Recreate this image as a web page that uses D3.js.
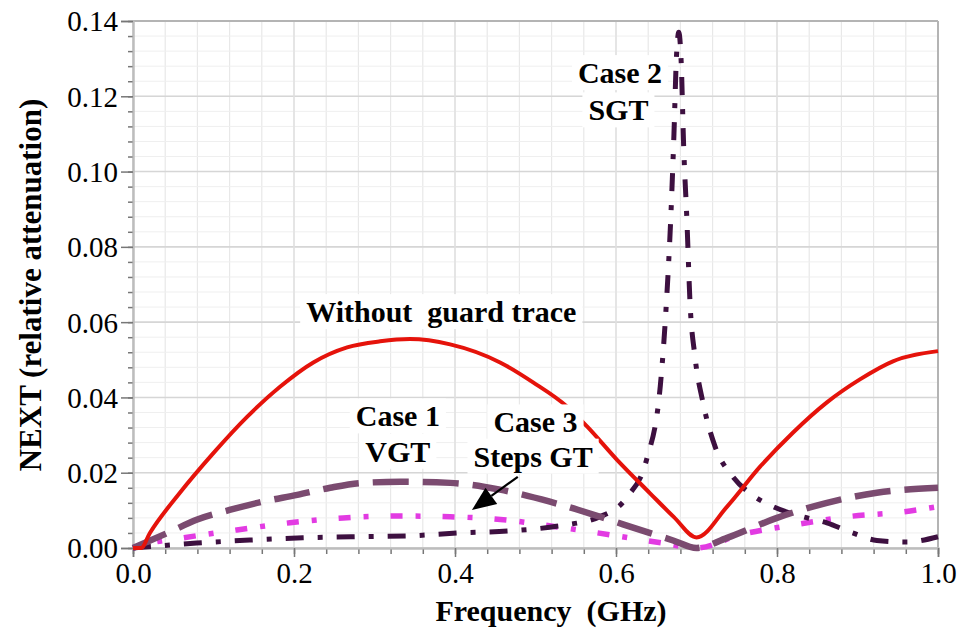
<!DOCTYPE html>
<html>
<head>
<meta charset="utf-8">
<script src="https://cdn.jsdelivr.net/npm/d3@7"></script>
<style>
  html, body { margin: 0; padding: 0; background: #fff; }
  svg { display: block; }
</style>
</head>
<body>
<svg id="chart" width="967" height="634" font-family="Liberation Serif"></svg>
<script>
// ---------------- data ----------------
const xTicks = [0.0, 0.2, 0.4, 0.6, 0.8, 1.0];
const yTicks = [0.00, 0.02, 0.04, 0.06, 0.08, 0.10, 0.12, 0.14];

// Without guard trace (red, solid)
const freqNone = [0.0, 0.01, 0.021, 0.058, 0.099, 0.142, 0.183, 0.224, 0.266, 0.307, 0.344, 0.394, 0.456, 0.497, 0.539, 0.564, 0.601, 0.642, 0.672, 0.700, 0.738, 0.779, 0.82, 0.862, 0.903, 0.944, 1.0];
const nextNone = [0.0, 0.0, 0.004, 0.0146, 0.025, 0.0349, 0.0429, 0.0493, 0.0533, 0.0549, 0.0555, 0.0541, 0.0493, 0.044, 0.0376, 0.0323, 0.0235, 0.0146, 0.0082, 0.0028, 0.011, 0.0216, 0.0307, 0.0387, 0.0448, 0.0496, 0.0523];

// Case 1 VGT (mauve, long dashes)
const freqVGT = [0.0, 0.046, 0.079, 0.12, 0.161, 0.204, 0.245, 0.286, 0.332, 0.394, 0.456, 0.518, 0.58, 0.63, 0.671, 0.70, 0.738, 0.8, 0.862, 0.924, 1.0];
const nextVGT = [0.0, 0.0043, 0.0075, 0.0101, 0.0123, 0.0141, 0.016, 0.0173, 0.0176, 0.0173, 0.0155, 0.0123, 0.0083, 0.0048, 0.002, 0.0, 0.0027, 0.008, 0.012, 0.0147, 0.016];

// Case 3 Steps GT (magenta, dash-dot)
const freqSteps = [0.0, 0.021, 0.062, 0.129, 0.195, 0.261, 0.328, 0.394, 0.46, 0.527, 0.593, 0.658, 0.70, 0.754, 0.82, 0.887, 0.957, 1.0];
const nextSteps = [0.0, 0.0013, 0.0027, 0.0048, 0.0067, 0.008, 0.0085, 0.0083, 0.0075, 0.0056, 0.0035, 0.0013, 0.0, 0.0035, 0.0061, 0.0083, 0.0096, 0.011];

// Case 2 SGT (dark purple, dash-dot)
const freqSGT = [0.0, 0.079, 0.145, 0.211, 0.278, 0.34, 0.406, 0.472, 0.53, 0.58, 0.614, 0.638, 0.655, 0.662, 0.668, 0.672, 0.675, 0.678, 0.681, 0.684, 0.688, 0.692, 0.698, 0.708, 0.723, 0.745, 0.77, 0.795, 0.832, 0.862, 0.894, 0.924, 0.961, 1.0];
const nextSGT = [0.0, 0.0013, 0.0021, 0.0027, 0.003, 0.0032, 0.004, 0.0046, 0.0059, 0.0083, 0.0136, 0.0235, 0.043, 0.063, 0.0875, 0.11, 0.13, 0.137, 0.129, 0.107, 0.0875, 0.065, 0.051, 0.0387, 0.027, 0.019, 0.014, 0.011, 0.0083, 0.0067, 0.004, 0.002, 0.0016, 0.003];

// annotations (text, x, baseline y in data units)
const labelTexts = ["Without\u00A0\u00A0guard trace", "Case 1", "VGT", "Case 3", "Steps GT", "Case 2", "SGT"];
const labelX = [0.383, 0.329, 0.329, 0.500, 0.497, 0.605, 0.603];
const labelY = [0.0600, 0.0323, 0.0229, 0.0307, 0.0216, 0.1235, 0.1136];
const arrowFrom = [0.478, 0.0189];
const arrowTo = [0.421, 0.0101];

// ---------------- layout ----------------
const FONT = "Liberation Serif";
const W = 967, H = 634;
const m = { left: 133, top: 21, right: 29, bottom: 86 };
const iw = W - m.left - m.right;
const ih = H - m.top - m.bottom;

const svg = d3.select("#chart");
const g = svg.append("g").attr("transform", `translate(${m.left},${m.top})`);

const x = d3.scaleLinear().domain([0, 1]).range([0, iw]);
const y = d3.scaleLinear().domain([0, 0.14]).range([ih, 0]);

// grid
const xMinor = d3.range(0, 1.0001, 0.04);
const yMinor = d3.range(0, 0.14001, 0.004);
g.append("g").selectAll("line").data(xMinor).join("line")
  .attr("x1", d => x(d)).attr("x2", d => x(d)).attr("y1", 0).attr("y2", ih)
  .attr("stroke", "#e8e8e8").attr("stroke-width", 1.2);
g.append("g").selectAll("line").data(yMinor).join("line")
  .attr("y1", d => y(d)).attr("y2", d => y(d)).attr("x1", 0).attr("x2", iw)
  .attr("stroke", "#efefef").attr("stroke-width", 1);
g.append("g").selectAll("line").data(yTicks).join("line")
  .attr("y1", d => y(d)).attr("y2", d => y(d)).attr("x1", 0).attr("x2", iw)
  .attr("stroke", "#d6d6d6").attr("stroke-width", 1.6);
g.append("g").selectAll("line").data(xTicks).join("line")
  .attr("x1", d => x(d)).attr("x2", d => x(d)).attr("y1", 0).attr("y2", ih)
  .attr("stroke", "#e0e0e0").attr("stroke-width", 1.4);

// frame top/right
g.append("line").attr("x1", 0).attr("x2", iw).attr("y1", 0).attr("y2", 0)
  .attr("stroke", "#b4b4b4").attr("stroke-width", 2);
g.append("line").attr("x1", iw).attr("x2", iw).attr("y1", 0).attr("y2", ih)
  .attr("stroke", "#b4b4b4").attr("stroke-width", 2);

// axes
const xAxisMinor = d3.axisBottom(x).tickValues(xMinor).tickSize(6).tickFormat("");
const xAxis = d3.axisBottom(x).tickValues(xTicks).tickSize(9).tickPadding(7).tickFormat(d3.format(".1f"));
const yAxisMinor = d3.axisLeft(y).tickValues(yMinor).tickSize(5).tickFormat("");
const yAxis = d3.axisLeft(y).tickValues(yTicks).tickSize(12).tickPadding(3).tickFormat(d3.format(".2f"));

function styleAxis(sel) {
  sel.attr("font-family", FONT).attr("font-size", 29);
  sel.select(".domain").attr("stroke", "#bdbdbd").attr("stroke-width", 2);
  sel.selectAll(".tick line").attr("stroke", "#777").attr("stroke-width", 1.5);
  sel.selectAll("text").attr("fill", "#000").attr("font-family", FONT).attr("font-size", 29);
}
g.append("g").attr("transform", `translate(0,${ih})`).call(xAxisMinor).call(styleAxis);
g.append("g").attr("transform", `translate(0,${ih})`).call(xAxis).call(styleAxis)
  .selectAll("text").attr("dy", "0.65em");
g.append("g").call(yAxisMinor).call(styleAxis);
g.append("g").call(yAxis).call(styleAxis)
  .selectAll("text").attr("dy", "0.34em");

// axis titles
svg.append("text")
  .attr("x", 551).attr("y", 621)
  .attr("text-anchor", "middle")
  .attr("font-family", FONT).attr("font-size", 30).attr("font-weight", "bold")
  .text("Frequency\u00A0\u00A0(GHz)");
svg.append("text")
  .attr("transform", "translate(41,285) rotate(-90)")
  .attr("text-anchor", "middle")
  .attr("font-family", FONT).attr("font-size", 31).attr("font-weight", "bold")
  .text("NEXT (relative attenuation)");

// lines
const lineGen = d3.line().curve(d3.curveMonotoneX).x(d => x(d[0])).y(d => y(d[1]));
const zip = (a, b) => a.map((v, i) => [v, b[i]]);

const series = [
  { data: zip(freqSteps, nextSteps), color: "#e23be2", width: 5.5, dash: "12,13,5,22" },
  { data: zip(freqSGT, nextSGT), color: "#3d1040", width: 5, dash: "18,14,5,14" },
  { data: zip(freqVGT, nextVGT), color: "#7b4b70", width: 6.5, dash: "36,14" },
  { data: zip(freqNone, nextNone), color: "#e5130b", width: 4, dash: null }
];
const lines = g.append("g");
series.forEach(s => {
  lines.append("path").datum(s.data)
    .attr("d", lineGen)
    .attr("fill", "none")
    .attr("stroke", s.color)
    .attr("stroke-width", s.width)
    .attr("stroke-linejoin", "round")
    .attr("stroke-dasharray", s.dash);
});

// annotations with white background
const ann = g.append("g");
labelTexts.forEach((t, i) => {
  const tx = ann.append("text")
    .attr("x", x(labelX[i])).attr("y", y(labelY[i]))
    .attr("text-anchor", "middle")
    .attr("font-family", FONT).attr("font-size", 30).attr("font-weight", "bold")
    .text(t);
  const bb = tx.node().getBBox();
  ann.insert("rect", "text")
    .attr("x", bb.x - 6).attr("y", bb.y - 1)
    .attr("width", bb.width + 12).attr("height", bb.height + 2)
    .attr("fill", "#fff");
});

// arrow
const ax1 = x(arrowFrom[0]), ay1 = y(arrowFrom[1]);
const ax2 = x(arrowTo[0]), ay2 = y(arrowTo[1]);
const ang = Math.atan2(ay2 - ay1, ax2 - ax1);
const headL = 24, headW = 10;
const bx = ax2 - headL * Math.cos(ang), by = ay2 - headL * Math.sin(ang);
g.append("line")
  .attr("x1", ax1).attr("y1", ay1).attr("x2", bx).attr("y2", by)
  .attr("stroke", "#000").attr("stroke-width", 2.2);
g.append("path")
  .attr("d", `M${ax2},${ay2} L${bx + headW * Math.sin(ang)},${by - headW * Math.cos(ang)} L${bx - headW * Math.sin(ang)},${by + headW * Math.cos(ang)} Z`)
  .attr("fill", "#000");
</script>
</body>
</html>
